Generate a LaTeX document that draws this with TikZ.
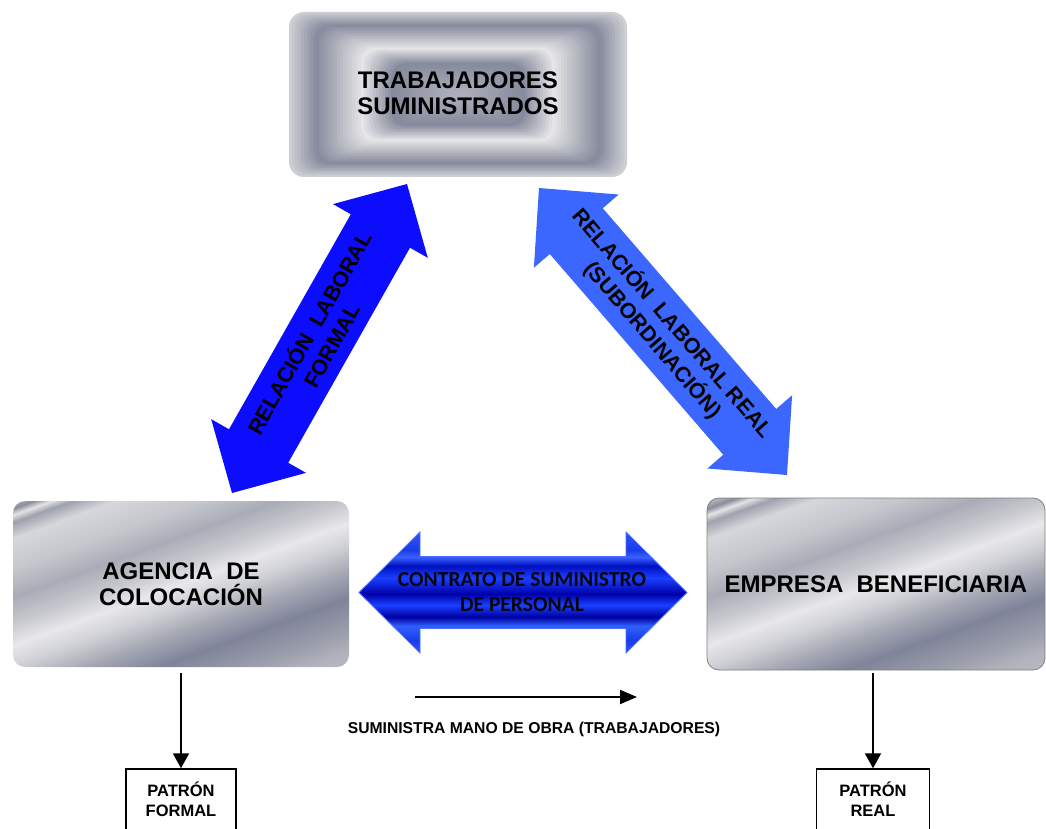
\documentclass[tikz,border=0pt]{standalone}
\usepackage{fontspec}
\setmainfont{Liberation Sans}
\newfontfamily\calibfont{Carlito}
\usetikzlibrary{arrows.meta,calc}

% palette
\definecolor{ringL}{HTML}{E6E6E8}
\definecolor{ringD}{HTML}{858A9C}
\definecolor{formalblue}{HTML}{0C0CFF}
\definecolor{realblue}{HTML}{3B67FF}
\definecolor{contracttext}{HTML}{05050F}
\definecolor{contractedge}{HTML}{4A70FF}

% silver stripes (left to right = upper-left to lower-right of a box)
\definecolor{sa}{HTML}{B8BAC2}
\definecolor{sb}{HTML}{8A8D9A}
\definecolor{sc}{HTML}{E4E4E6}
\definecolor{sd}{HTML}{9EA1AD}
\definecolor{se}{HTML}{D6D7DB}
\definecolor{sf}{HTML}{C4C6CC}
\definecolor{sg}{HTML}{A9ACB7}
\definecolor{sh}{HTML}{C8C9CF}
\definecolor{si}{HTML}{E8E8EA}
\definecolor{sj}{HTML}{D0D1D6}
\definecolor{sk}{HTML}{A4A7B3}
\definecolor{sl}{HTML}{80849A}
\definecolor{sm}{HTML}{9A9DAA}
\definecolor{sn}{HTML}{B0B2BC}
\definecolor{so}{HTML}{C0C2C8}
\pgfdeclarehorizontalshading{silver}{420bp}{color(0bp)=(sa); color(15bp)=(sa);
  color(22bp)=(sb); color(28bp)=(sc); color(35bp)=(sd); color(50bp)=(se);
  color(80bp)=(sf); color(105bp)=(sg); color(130bp)=(sh); color(150bp)=(si);
  color(170bp)=(sj); color(195bp)=(sk); color(220bp)=(sl); color(250bp)=(sm);
  color(270bp)=(sn); color(300bp)=(so)}

% glossy blue bands of the contract arrow (bottom to top)
\definecolor{ba}{HTML}{3050FF}
\definecolor{bb}{HTML}{1A3CE8}
\definecolor{bc}{HTML}{3060FF}
\definecolor{bd}{HTML}{0000A0}
\definecolor{be}{HTML}{1A40FF}
\definecolor{bf}{HTML}{0000A8}
\definecolor{bg}{HTML}{0010C0}
\definecolor{bh}{HTML}{3A60FF}
\pgfdeclareverticalshading{bluebar}{100bp}{color(0bp)=(ba); color(25bp)=(ba);
  color(30.37bp)=(bb); color(36.16bp)=(bc); color(39.88bp)=(bd);
  color(44.83bp)=(be); color(49.38bp)=(bf); color(55.99bp)=(be);
  color(60.95bp)=(bg); color(64.67bp)=(bh); color(67.56bp)=(bb);
  color(75bp)=(ba); color(100bp)=(ba)}

% double-headed block arrow between two named points:
% #1 style, #2/#3 end points, #4 head length, #5 head half-width, #6 shaft half-width
\newcommand\blockarrow[6]{%
  \path[#1] (#2)
    -- ($($(#2)!#4!(#3)$)!#5!90:(#3)$)
    -- ($($(#2)!#4!(#3)$)!#6!90:(#3)$)
    -- ($($(#3)!#4!(#2)$)!#6!-90:(#2)$)
    -- ($($(#3)!#4!(#2)$)!#5!-90:(#2)$)
    -- (#3)
    -- ($($(#3)!#4!(#2)$)!#5!90:(#2)$)
    -- ($($(#3)!#4!(#2)$)!#6!90:(#2)$)
    -- ($($(#2)!#4!(#3)$)!#6!-90:(#3)$)
    -- ($($(#2)!#4!(#3)$)!#5!-90:(#3)$)
    -- cycle;}

\newcommand\boxfont{\fontsize{24}{25.5}\selectfont\bfseries}
\newcommand\slantfont{\fontsize{21.5}{25.5}\selectfont\bfseries}

\tikzset{
  silverbox/.style={rounded corners=12pt, inner sep=0pt, align=center,
    font=\boxfont,
    path picture={\node[rotate=-70, inner sep=0pt] at (path picture bounding box.center)
      {\pgfuseshading{silver}};}},
  patronbox/.style={draw, line width=1.5pt, minimum width=110pt, minimum height=80pt},
  patrontext/.style={align=center, font=\fontsize{16.5}{20}\selectfont\bfseries},
  downarrow/.style={line width=2pt, -{Triangle[length=15pt,width=16pt]}},
}

\begin{document}
\begin{tikzpicture}[x=1pt, y=-1pt]
\useasboundingbox (0,0) rectangle (1046,829);
\clip (0,0) rectangle (1046,829);

% concentric banded frame behind the workers' box
\foreach \s in {0,1.5,...,79.5}{
  \pgfmathsetmacro\pp{\s<13 ? 25+75*\s/13 : (\s<36 ? 100-100*(\s-13)/23 :
    (\s<51 ? 100*(\s-36)/15 : 100-40*(\s-51)/29))}
  \pgfmathsetmacro\rr{min(15,(82.5-\s)/2)}
  \fill[ringD!\pp!ringL, rounded corners=\rr pt]
    (289+2*\s, 12+\s) rectangle (627-2*\s, 177-\s);
}
\node[minimum width=338pt, minimum height=165pt, align=center, font=\boxfont]
  (tb) at (458,93) {TRABAJADORES\\SUMINISTRADOS};

% the two parties
\node[silverbox, minimum width=336pt, minimum height=166pt]
  (ag) at (181,584) {AGENCIA\ \ DE\\COLOCACIÓN};
\node[silverbox, draw=gray, line width=0.8pt, minimum width=338pt, minimum height=172pt]
  (emp) at (876,584) {EMPRESA\ \ BENEFICIARIA};

% formal labour relation
\coordinate (fa) at (232,493);
\coordinate (fb) at (407,184);
\blockarrow{fill=formalblue}{fa}{fb}{54pt}{54.5pt}{34pt}
\node[rotate=60.5, align=center, font=\slantfont] (ft) at ($(fa)!0.5!(fb)$)
  {RELACIÓN\ \ LABORAL\\FORMAL};

% real labour relation
\coordinate (ra) at (539,188);
\coordinate (rb) at (787,475);
\blockarrow{fill=realblue}{ra}{rb}{57pt}{56pt}{35pt}
\node[rotate=-49.2, align=center, font=\slantfont] (rt) at ($(ra)!0.5!(rb)$)
  {RELACIÓN\ \ LABORAL REAL\\(SUBORDINACIÓN)};

% supply contract
\coordinate (ca) at (359,592.5);
\coordinate (cb) at (687,592.5);
\blockarrow{shading=bluebar, draw=contractedge, line width=0.8pt}{ca}{cb}{61pt}{60.5pt}{36pt}
\node[align=center, text=contracttext, font=\calibfont\fontsize{21.5}{24.5}\selectfont\bfseries]
  (ct) at (522,592) {CONTRATO DE SUMINISTRO\\DE PERSONAL};

% labour supply flow
\coordinate (sa) at (415,697);
\coordinate (sb) at (637,697);
\draw[line width=2pt, -{Triangle[length=17pt,width=14pt]}] (sa) -- (sb);
\node[font=\fontsize{15.7}{18}\selectfont\bfseries] (st) at (534,729)
  {SUMINISTRA MANO DE OBRA (TRABAJADORES)};

% employers
\node[patronbox] (pf) at (181,809) {};
\node[patrontext] (pft) at (181,799.5) {PATRÓN\\FORMAL};
\node[patronbox, minimum width=113pt] (pr) at (873,809) {};
\node[patrontext] (prt) at (873,799.5) {PATRÓN\\REAL};
\draw[downarrow] ([yshift=-6pt]ag.south) -- (pf.north);
\draw[downarrow] ([yshift=-3pt]emp.south -| pr.north) -- (pr.north);
\end{tikzpicture}
\end{document}
